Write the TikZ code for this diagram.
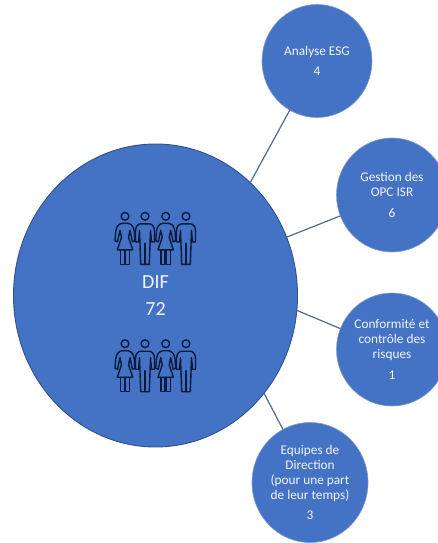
\documentclass[tikz,border=0pt]{standalone}
\usepackage{fontspec}
\setmainfont{Carlito}
\usetikzlibrary{shapes.geometric}
\definecolor{blobfill}{HTML}{4472C4}
\definecolor{blobedge}{HTML}{2F528F}
\definecolor{linkcol}{HTML}{56698F}
\definecolor{iconcol}{HTML}{0A1A3C}
\definecolor{txt}{HTML}{F2F5FB}
\tikzset{
  x=1pt,y=-1pt,
  blob/.style={ellipse,fill=blobfill,inner sep=0pt,outer sep=0pt,align=center,text=txt,
    font=\fontsize{13.3}{15}\selectfont},
  sat/.style={blob,draw=blobfill!70!white,line width=0.6pt},
  hub/.style={blob,draw=blobedge,line width=0.9pt,font=\fontsize{20}{27}\selectfont},
  link/.style={draw=linkcol,line width=1.2pt},
  icon/.style={draw=iconcol,line width=1.4pt,line join=round,line cap=round},
  woman/.pic={
    \draw[icon] (0,0) circle (3.9);
    \draw[icon] (-5,14) .. controls (-4.5,18) and (-3.5,19) .. (-3.5,21) -- (-7.7,33.5) -- (7.7,33.5) -- (3.5,21)
      .. controls (3.5,19) and (4.5,18) .. (5,14) -- (7.5,25.5) -- (10,24.5) -- (9.5,18)
      .. controls (9,10) and (7,8) .. (3,7) -- (-3,7)
      .. controls (-7,8) and (-9,10) .. (-9.5,18) -- (-10,24.5) -- (-7.5,25.5) -- cycle;
    \draw[icon] (-4.7,33.5) -- (-4.7,48) -- (-0.6,48) -- (-0.6,33.5);
    \draw[icon] (0.6,33.5) -- (0.6,48) -- (4.7,48) -- (4.7,33.5);
  },
  man/.pic={
    \draw[icon] (0,0) circle (3.9);
    \draw[icon] (-5.5,14) -- (-4.3,48) -- (4.3,48) -- (5.5,14) -- (6.5,25.5) -- (9.5,25.5) -- (9.5,15)
      .. controls (9.5,10) and (7,7.5) .. (4,7.5) -- (-4,7.5)
      .. controls (-7,7.5) and (-9.5,10) .. (-9.5,15) -- (-9.5,25.5) -- (-6.5,25.5) -- cycle;
    \draw[icon] (0,27) -- (0,48);
  },
  couple/.pic={
    \pic at (0,0) {woman};
    \pic at (20,0) {man};
    \pic at (40.7,0) {woman};
    \pic at (61,0) {man};
  }
}
\begin{document}
\begin{tikzpicture}
\useasboundingbox (0,0) rectangle (438,543);
\node[hub,minimum width=284pt,minimum height=303pt] (dif) at (155.5,295.5) {DIF\\72};
\node[sat,minimum width=110pt,minimum height=113pt] (esg) at (317,61) {Analyse ESG\\[5.5pt]4};
\node[sat,minimum width=111pt,minimum height=114pt] (opc) at (392,195) {Gestion des\\OPC ISR\\[6pt]6};
\node[sat,minimum width=111pt,minimum height=113pt] (conf) at (392,349.5) {Conformité et\\contrôle des\\risques\\[6pt]1};
\node[sat,minimum width=116pt,minimum height=120pt] (dir) at (310,482.5) {Equipes de\\Direction\\(pour une part\\de leur temps)\\[5pt]3};
\draw[link] (dif.50.1) -- (esg.241.7);
\draw[link] (dif.24) -- (opc.202.2);
\draw[link] (dif.-6.65) -- (conf.158.3);
\draw[link] (dif.-42.3) -- (dir.117);
\pic at (125,216.3) {couple};
\pic at (125,343.7) {couple};
\end{tikzpicture}
\end{document}
